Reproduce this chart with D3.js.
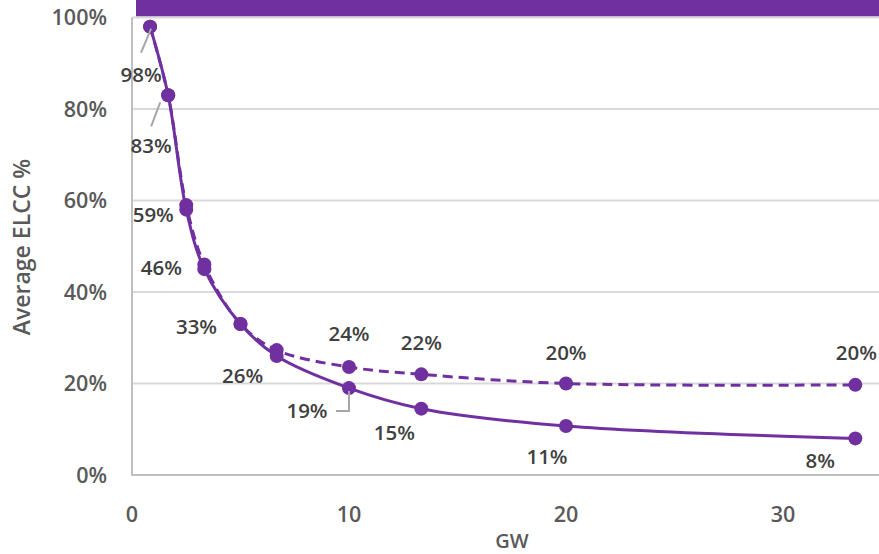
<!DOCTYPE html>
<html>
<head>
<meta charset="utf-8">
<script src="https://cdn.jsdelivr.net/npm/d3@7"></script>
<style>
  html, body { margin: 0; padding: 0; background: #fff; }
  svg { display: block; font-family: "Open Sans", "Liberation Sans", sans-serif; }
</style>
</head>
<body>
<svg id="chart" width="879" height="554"></svg>
<script>
// ---- data ----
const gw = [0.833, 1.667, 2.5, 3.333, 5, 6.667, 10, 13.333, 20, 33.333];
const solidElcc = [98, 83, 58, 45, 33, 26, 19, 14.5, 10.7, 8];
const dashedElcc = [98, 83, 59, 46, 33, 27.3, 23.6, 22, 20, 19.7];
const labelTexts = ["98%", "83%", "59%", "46%", "33%", "26%", "24%", "22%", "20%", "20%", "19%", "15%", "11%", "8%"];
const labelSeries = ["s", "s", "d", "d", "s", "s", "d", "d", "d", "d", "s", "s", "s", "s"];
const labelIndex = [0, 1, 2, 3, 4, 5, 6, 7, 8, 9, 6, 7, 8, 9];
const yTicks = [0, 20, 40, 60, 80, 100];
const xTicks = [0, 10, 20, 30];

// ---- layout / style ----
const purple = "#7030A0";
const svg = d3.select("#chart");
const x = d3.scaleLinear().domain([0, 35]).range([132, 891.5]);
const y = d3.scaleLinear().domain([0, 100]).range([475, 17.5]);

// label offsets (dx, dy) relative to the point, in pixels
const labelOffsets = [
  [-9, 48], [-17, 50], [-33, 10], [-43, 3], [-44, 3], [-34, 20],
  [0, -33], [0, -32], [0, -31], [1, -32], [-42, 23], [-27, 24], [-19, 31], [-35, 22]
];
const leaders = { 0: [[1, 2], [-9, 26]], 1: [[-8, 7], [-17, 31]], 10: [[0, 3], [0, 23], [-13, 23]] };

// banner (cut-off title bar)
svg.append("rect").attr("x", 136).attr("y", 0).attr("width", 743).attr("height", 16.5).attr("fill", purple);

// gridlines
svg.append("g").selectAll("line").data(yTicks.filter(d => d > 0)).join("line")
  .attr("x1", x(0)).attr("x2", 879)
  .attr("y1", d => y(d)).attr("y2", d => y(d))
  .attr("stroke", "#d9d9d9").attr("stroke-width", 2);

// axes lines
svg.append("line").attr("x1", x(0)).attr("x2", 879).attr("y1", y(0)).attr("y2", y(0))
  .attr("stroke", "#bfbfbf").attr("stroke-width", 2);
svg.append("line").attr("x1", x(0)).attr("x2", x(0)).attr("y1", y(0) + 1).attr("y2", y(100))
  .attr("stroke", "#bfbfbf").attr("stroke-width", 2);

// y tick labels
svg.append("g").selectAll("text").data(yTicks).join("text")
  .attr("x", 107).attr("y", d => y(d)).attr("dy", "0.36em")
  .attr("text-anchor", "end").attr("font-size", 21.5).attr("font-weight", 600)
  .attr("fill", "#595959").text(d => d + "%");

// x tick labels
svg.append("g").selectAll("text").data(xTicks).join("text")
  .attr("x", d => x(d)).attr("y", 514).attr("dy", "0.36em")
  .attr("text-anchor", "middle").attr("font-size", 21.5).attr("font-weight", 600)
  .attr("fill", "#595959").text(d => d);

// axis titles
svg.append("text").attr("x", 512).attr("y", 541).attr("dy", "0.36em")
  .attr("text-anchor", "middle").attr("font-size", 20).attr("font-weight", 600)
  .attr("fill", "#595959").text("GW");
svg.append("text").attr("transform", "translate(22,247) rotate(-90)").attr("dy", "0.36em")
  .attr("text-anchor", "middle").attr("font-size", 23).attr("font-weight", 600)
  .attr("fill", "#595959").text("Average ELCC %");

// lines
const line = d3.line().x(d => x(d[0])).y(d => y(d[1])).curve(d3.curveCatmullRom.alpha(0.5));
const dashedPts = gw.map((g, i) => [g, dashedElcc[i]]);
const solidPts = gw.map((g, i) => [g, solidElcc[i]]);

svg.append("path").attr("d", line(dashedPts)).attr("fill", "none")
  .attr("stroke", purple).attr("stroke-width", 3).attr("stroke-dasharray", "10,6");
svg.append("g").selectAll("circle").data(dashedPts).join("circle")
  .attr("cx", d => x(d[0])).attr("cy", d => y(d[1])).attr("r", 7).attr("fill", purple);

svg.append("path").attr("d", line(solidPts)).attr("fill", "none")
  .attr("stroke", purple).attr("stroke-width", 3);
svg.append("g").selectAll("circle").data(solidPts).join("circle")
  .attr("cx", d => x(d[0])).attr("cy", d => y(d[1])).attr("r", 7).attr("fill", purple);

// leader lines
Object.keys(leaders).forEach(k => {
  const i = +k;
  const pts = labelSeries[i] === "s" ? solidPts : dashedPts;
  const p = pts[labelIndex[i]];
  const px = x(p[0]), py = y(p[1]);
  svg.append("path")
    .attr("d", d3.line()(leaders[k].map(o => [px + o[0], py + o[1]])))
    .attr("fill", "none").attr("stroke", "#a6a6a6").attr("stroke-width", 2);
});

// data labels
svg.append("g").selectAll("text").data(labelTexts).join("text")
  .attr("x", (t, i) => {
    const pts = labelSeries[i] === "s" ? solidPts : dashedPts;
    return x(pts[labelIndex[i]][0]) + labelOffsets[i][0];
  })
  .attr("y", (t, i) => {
    const pts = labelSeries[i] === "s" ? solidPts : dashedPts;
    return y(pts[labelIndex[i]][1]) + labelOffsets[i][1];
  })
  .attr("dy", "0.36em").attr("text-anchor", "middle")
  .attr("font-size", 20.5).attr("font-weight", 600).attr("fill", "#404040")
  .text(t => t);
</script>
</body>
</html>
